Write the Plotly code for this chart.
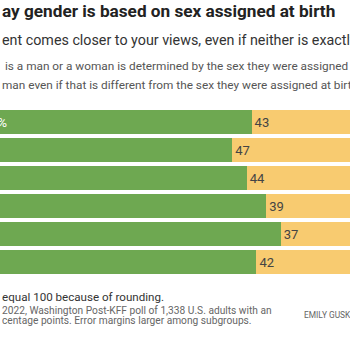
import plotly.graph_objects as go

W, H = 350, 342

rows = ["r1", "r2", "r3", "r4", "r5", "r6"]
green_vals = [56, 52, 55, 59, 62, 57]
yellow_vals = [43, 47, 44, 39, 37, 42]
green_labels = ["56%", "52", "55", "59", "62", "57"]
yellow_labels = ["43", "47", "44", "39", "37", "42"]

GREEN = "#6ea851"
YELLOW = "#f8cb70"
FONT = "Roboto"

fig = go.Figure()
fig.add_trace(go.Bar(
    y=rows, x=green_vals, orientation="h", marker=dict(color=GREEN, line=dict(width=0)),
    text=green_labels, textposition="inside", insidetextanchor="start",
    textfont=dict(family=FONT, size=13, color="white"), cliponaxis=True, hoverinfo="skip",
))
fig.add_trace(go.Bar(
    y=rows, x=yellow_vals, orientation="h", marker=dict(color=YELLOW, line=dict(width=0)),
    text=yellow_labels, textposition="inside", insidetextanchor="start",
    textfont=dict(family=FONT, size=13, color="#444444"), cliponaxis=True, hoverinfo="skip",
))

px_per_unit = 4.85
r0 = 20 / px_per_unit
r1 = r0 + W / px_per_unit

def py(p):
    return 1 - p / H

fig.update_layout(
    width=W, height=H, margin=dict(l=0, r=0, t=0, b=0),
    paper_bgcolor="white", plot_bgcolor="white",
    barmode="stack", bargap=0.14, showlegend=False,
    xaxis=dict(range=[r0, r1], visible=False, fixedrange=True),
    yaxis=dict(autorange="reversed", visible=False, domain=[py(276), py(108.3)]),
    uniformtext=dict(mode=False),
)

anns = [
    dict(text="<b>ay gender is based on sex assigned at birth</b>", y=py(11), size=17.2, color="#222222"),
    dict(text="ent comes closer to your views, even if neither is exactly right", y=py(40), size=14.3, color="#333333"),
    dict(text=" is a man or a woman is determined by the sex they were assigned at birth", y=py(66.5), size=11.8, color="#555555"),
    dict(text="man even if that is different from the sex they were assigned at birth", y=py(85), size=11.8, color="#555555"),
    dict(text="equal 100 because of rounding.", y=py(296.5), size=11.6, color="#333333"),
    dict(text="2022, Washington Post-KFF poll of 1,338 U.S. adults with an", y=py(310), size=10.2, color="#666666"),
    dict(text="centage points. Error margins larger among subgroups.", y=py(320.5), size=10.2, color="#666666"),
]
for a in anns:
    fig.add_annotation(
        text=a["text"], xref="paper", yref="paper", x=0, y=a["y"],
        xanchor="left", yanchor="middle", showarrow=False,
        font=dict(family=FONT, size=a["size"], color=a["color"]),
    )
fig.add_annotation(
    text="EMILY GUSKIN", xref="paper", yref="paper", x=302 / W, y=py(315),
    xanchor="left", yanchor="middle", showarrow=False,
    font=dict(family=FONT, size=8.4, color="#666666"),
)

fig.write_html("out.html")
